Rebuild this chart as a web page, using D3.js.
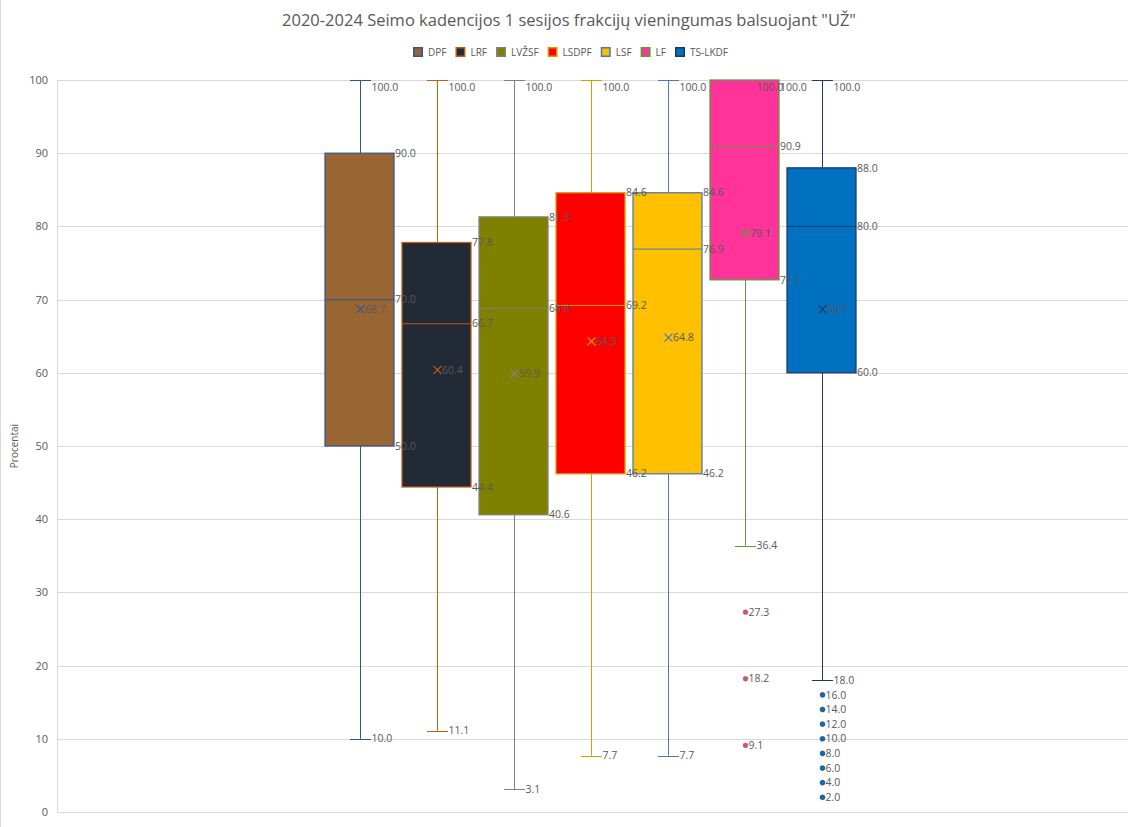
<!DOCTYPE html>
<html>
<head>
<meta charset="utf-8">
<script src="https://cdn.jsdelivr.net/npm/d3@7"></script>
<style>
  html, body { margin: 0; padding: 0; background: #fff; }
  svg { display: block; }
  text { font-family: "Open Sans", "Noto Sans", sans-serif; }
</style>
</head>
<body>
<div id="chart"></div>
<script>
// ---------- data ----------
const titleText = '2020-2024 Seimo kadencijos 1 sesijos frakcijų vieningumas balsuojant "UŽ"';
const yAxisTitle = "Procentai";
const series   = ["DPF", "LRF", "LVŽSF", "LSDPF", "LSF", "LF", "TS-LKDF"];
const mins     = [10, 11.1, 3.1, 7.7, 7.7, 36.4, 18];
const q1s      = [50, 44.4, 40.6, 46.2, 46.2, 72.7, 60];
const medians  = [70, 66.7, 68.8, 69.2, 76.9, 90.9, 80];
const q3s      = [90, 77.8, 81.3, 84.6, 84.6, 100, 88];
const maxs     = [100, 100, 100, 100, 100, 100, 100];
const means    = [68.7, 60.4, 59.9, 64.3, 64.8, 79.1, 68.7];
const outliers = [[], [], [], [], [], [27.3, 18.2, 9.1], [16, 14, 12, 10, 8, 6, 4, 2]];
const yTicks   = [0, 10, 20, 30, 40, 50, 60, 70, 80, 90, 100];

const fills   = ["#996633", "#222A35", "#808000", "#FF0000", "#FFC000", "#FF3399", "#0070C0"];
const strokes = ["#2F5597", "#C55A11", "#808080", "#D4A000", "#4A78B8", "#5A9A38", "#1F3864"];

// ---------- layout ----------
const W = 1137, H = 827;
const plot = { left: 57, right: 1128, top: 80, bottom: 812 };
const labelColor = "#595959";

const svg = d3.select("#chart").append("svg").attr("width", W).attr("height", H);
svg.append("rect").attr("width", W).attr("height", H).attr("fill", "#fff");
svg.append("line").attr("x1", 0.5).attr("x2", 0.5).attr("y1", 0).attr("y2", H)
  .attr("stroke", "#d9d9d9");

const y = d3.scaleLinear().domain([0, 100]).range([plot.bottom, plot.top]);

// one category, series inside it
const xCat = d3.scaleBand().domain(["1"]).range([plot.left, plot.right - 4]);
const groupCenter = xCat("1") + xCat.bandwidth() / 2;
const step = 77;
const x = d3.scaleBand().domain(series)
  .range([groupCenter - step * 3.5, groupCenter + step * 3.5])
  .paddingInner(8 / 77).paddingOuter(4 / 77);
const bw = x.bandwidth();

// gridlines
svg.append("g").selectAll("line").data(yTicks).join("line")
  .attr("x1", plot.left).attr("x2", plot.right)
  .attr("y1", d => Math.round(y(d)) + 0.5).attr("y2", d => Math.round(y(d)) + 0.5)
  .attr("stroke", "#d9d9d9").attr("stroke-width", 1);
// y axis line
svg.append("line").attr("x1", plot.left + 0.5).attr("x2", plot.left + 0.5)
  .attr("y1", plot.top).attr("y2", plot.bottom + 0.5).attr("stroke", "#d9d9d9");

// y axis
const yAxis = d3.axisLeft(y).tickValues(yTicks).tickSize(0).tickPadding(9).tickFormat(d3.format("d"));
const ga = svg.append("g").attr("transform", `translate(${plot.left},0)`).call(yAxis);
ga.select(".domain").remove();
ga.selectAll("text").attr("fill", labelColor).style("font-size", "11px")
  .style("font-family", '"Open Sans", sans-serif');

svg.append("text").attr("transform", `translate(18,${(plot.top + plot.bottom) / 2}) rotate(-90)`)
  .attr("text-anchor", "middle").attr("fill", labelColor).style("font-size", "10px")
  .text(yAxisTitle);

// title
svg.append("text").attr("x", 569).attr("y", 26).attr("text-anchor", "middle")
  .attr("fill", labelColor).style("font-size", "16.5px").text(titleText);

// legend
const leg = svg.append("g");
let lx = 0;
const legGap = 9;
series.forEach((s, i) => {
  const g = leg.append("g").attr("transform", `translate(${lx},0)`);
  g.append("rect").attr("x", 0.75).attr("y", 47.75).attr("width", 8.5).attr("height", 8.5)
    .attr("fill", fills[i]).attr("stroke", strokes[i]).attr("stroke-width", 1.5);
  const t = g.append("text").attr("x", 15).attr("y", 55.5).attr("fill", labelColor)
    .style("font-size", "10px").text(s);
  lx += 15 + t.node().getComputedTextLength() + legGap;
});
const legW = lx - legGap;
leg.attr("transform", `translate(${570.5 - legW / 2},0)`);

// layers
const boxLayer = svg.append("g");
const labelLayer = svg.append("g");

const labY = v => Math.max(y(v), plot.top + 7);
function label(xx, v, txt) {
  labelLayer.append("text").attr("x", xx).attr("y", labY(v)).attr("dy", "0.35em")
    .attr("fill", labelColor).style("font-size", "10.5px").text(txt);
}
const f1 = d3.format(".1f");

// boxes
series.forEach((s, i) => {
  const g = boxLayer.append("g");
  const x0 = x(s), cx = Math.round(x0 + bw / 2) + 0.5, xr = x0 + bw;
  const col = strokes[i];
  const capW = 21;
  // upper whisker
  if (maxs[i] > q3s[i]) {
    g.append("line").attr("x1", cx).attr("x2", cx)
      .attr("y1", y(q3s[i])).attr("y2", y(maxs[i])).attr("stroke", col);
    g.append("line").attr("x1", cx - capW / 2).attr("x2", cx + capW / 2)
      .attr("y1", Math.round(y(maxs[i])) + 0.5).attr("y2", Math.round(y(maxs[i])) + 0.5).attr("stroke", col);
  }
  // lower whisker
  g.append("line").attr("x1", cx).attr("x2", cx)
    .attr("y1", y(q1s[i])).attr("y2", y(mins[i])).attr("stroke", col);
  g.append("line").attr("x1", cx - capW / 2).attr("x2", cx + capW / 2)
    .attr("y1", Math.round(y(mins[i])) + 0.5).attr("y2", Math.round(y(mins[i])) + 0.5).attr("stroke", col);
  // box
  g.append("rect").attr("x", x0).attr("y", y(q3s[i]))
    .attr("width", bw).attr("height", y(q1s[i]) - y(q3s[i]))
    .attr("fill", fills[i]).attr("stroke", col).attr("stroke-width", 1.25);
  // median
  g.append("line").attr("x1", x0).attr("x2", xr)
    .attr("y1", y(medians[i])).attr("y2", y(medians[i])).attr("stroke", col);
  // mean marker
  const my = y(means[i]), r = 4;
  g.append("path").attr("d", `M${cx - r},${my - r}L${cx + r},${my + r}M${cx - r},${my + r}L${cx + r},${my - r}`)
    .attr("stroke", col).attr("stroke-width", 1.25).attr("fill", "none");
  // outliers
  outliers[i].forEach(v => {
    g.append("circle").attr("cx", cx).attr("cy", y(v)).attr("r", 2.4)
      .attr("fill", fills[i]).attr("stroke", col).attr("stroke-width", 0.7);
  });
  // labels (drawn above all boxes)
  label(cx + capW / 2 + 0.5, maxs[i], f1(maxs[i]));
  label(xr + 1, q3s[i], f1(q3s[i]));
  label(xr + 1, medians[i], f1(medians[i]));
  label(xr + 1, q1s[i], f1(q1s[i]));
  label(cx + capW / 2 + 0.5, mins[i], f1(mins[i]));
  label(cx + 4.5, means[i], f1(means[i]));
  outliers[i].forEach(v => label(cx + 3, v, f1(v)));
});
</script>
</body>
</html>
